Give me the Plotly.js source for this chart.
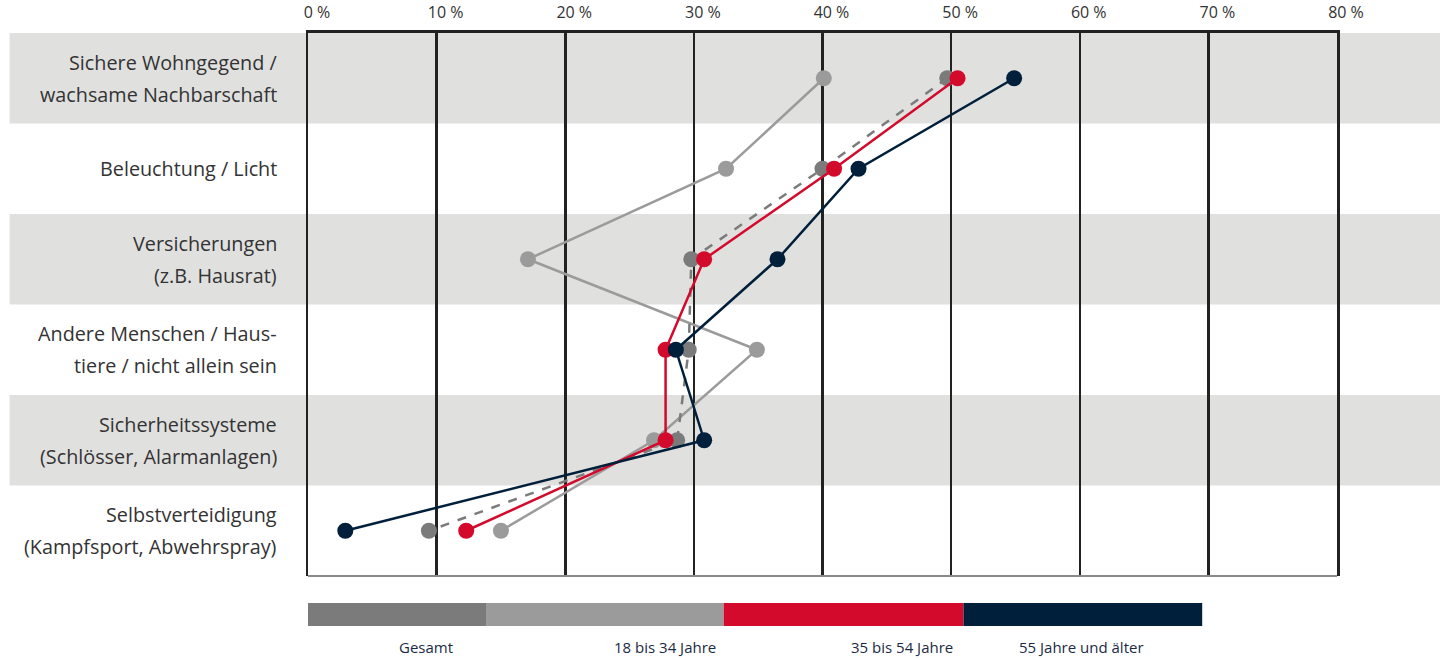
<!DOCTYPE html>
<html>
<head>
<meta charset="utf-8">
<script src="https://cdn.plot.ly/plotly-3.0.1.min.js"></script>
<style>
html,body{margin:0;padding:0;background:#fff;}
#chart{width:1440px;height:660px;}
</style>
</head>
<body>
<div id="chart"></div>
<script>
// ---- data ----
var categories = [
  "Sichere Wohngegend /<br>wachsame Nachbarschaft",
  "Beleuchtung / Licht",
  "Versicherungen<br>(z.B. Hausrat)",
  "Andere Menschen / Haus-<br>tiere / nicht allein sein",
  "Sicherheitssysteme<br>(Schlösser, Alarmanlagen)",
  "Selbstverteidigung<br>(Kampfsport, Abwehrspray)"
];
var seriesNames = ["Gesamt", "18 bis 34 Jahre", "35 bis 54 Jahre", "55 Jahre und älter"];
var gesamt   = [49.7, 40.0, 29.8, 29.6, 28.7, 9.4];
var age18_34 = [40.1, 32.5, 17.1, 34.9, 26.9, 15.0];
var age35_54 = [50.5, 40.9, 30.8, 27.8, 27.8, 12.3];
var age55    = [54.9, 42.8, 36.5, 28.6, 30.8, 2.9];
var tickVals = [0, 10, 20, 30, 40, 50, 60, 70, 80];
var tickLabels = ["0 %", "10 %", "20 %", "30 %", "40 %", "50 %", "60 %", "70 %", "80 %"];

// ---- styles ----
var colors = {g: "#7b7b7b", y: "#9b9b9b", m: "#d40a2c", o: "#001f3b"};
var font = "'Open Sans', 'DejaVu Sans', sans-serif";
var idx = categories.map(function(_, i){ return i; });

function tr(name, vals, color, dash){
  return {
    type: "scatter", mode: "lines+markers", name: name,
    x: vals, y: idx, yaxis: "y", xaxis: "x",
    line: {color: color, width: 2.5, dash: dash || "solid"},
    marker: {color: color, size: 16},
    hoverinfo: "x+name", showlegend: false, cliponaxis: false
  };
}
var data = [
  tr(seriesNames[1], age18_34, colors.y),
  tr(seriesNames[0], gesamt, colors.g, "dash"),
  tr(seriesNames[2], age35_54, colors.m),
  tr(seriesNames[3], age55, colors.o)
];

var shapes = [];
// alternating bands
idx.forEach(function(i){
  if (i % 2 === 0) {
    shapes.push({type: "rect", xref: "paper", yref: "y", x0: -0.29, x1: 1.11,
      y0: i - 0.5, y1: i + 0.5, fillcolor: "#e0e0df", line: {width: 0}, layer: "below"});
  }
});
// bottom border
shapes.push({type: "line", xref: "paper", yref: "paper", x0: 0, x1: 1, y0: 0, y1: 0,
  line: {color: "#8a8a8a", width: 2}, layer: "above"});

// legend bar
var legendColors = [colors.g, colors.y, colors.m, colors.o];
var legendEdges = [0, 0.173, 0.404, 0.637, 0.869];
var legendTextX = [0.1147, 0.347, 0.577, 0.752];
legendColors.forEach(function(c, i){
  shapes.push({type: "rect", xref: "paper", yref: "paper",
    x0: legendEdges[i], x1: legendEdges[i+1], y0: -0.092, y1: -0.0497,
    fillcolor: c, line: {width: 0}});
});

var annotations = [];
categories.forEach(function(cat, i){
  var lines = cat.split("<br>");
  lines.forEach(function(t, j){
    var shift = lines.length === 1 ? 0 : (j === 0 ? 16 : -16);
    annotations.push({text: t, xref: "paper", yref: "y", x: 0, y: i, xanchor: "right",
      yanchor: "middle", xshift: -29, yshift: shift, showarrow: false,
      font: {family: font, size: 19.8, color: "#333333"}});
  });
});
seriesNames.forEach(function(n, i){
  annotations.push({text: n, xref: "paper", yref: "paper", x: legendTextX[i], y: -0.131,
    xanchor: "center", yanchor: "middle", showarrow: false, borderpad: 0,
    font: {family: font, size: 15, color: "#1b2a45"}});
});

var layout = {
  width: 1440, height: 660,
  margin: {l: 308, r: 103, t: 33, b: 84},
  paper_bgcolor: "#ffffff", plot_bgcolor: "rgba(0,0,0,0)",
  showlegend: false,
  xaxis: {
    side: "top", range: [0, 80], tickvals: tickVals, ticktext: tickLabels,
    showgrid: true, gridcolor: "#222222", gridwidth: 2.5,
    zeroline: false, showline: true, linecolor: "#222222", linewidth: 3,
    ticks: "", ticklabelstandoff: 6, ticklabelshift: 9,
    tickfont: {family: font, size: 16, color: "#333333"}, fixedrange: true
  },
  yaxis: {
    type: "linear", range: [5.5, -0.5], showticklabels: false, showgrid: false,
    zeroline: false, showline: true, mirror: true, linecolor: "#222222", linewidth: 2.5,
    ticks: "", fixedrange: true
  },
  shapes: shapes,
  annotations: annotations
};

Plotly.newPlot("chart", data, layout, {displayModeBar: false, staticPlot: true});
</script>
</body>
</html>
